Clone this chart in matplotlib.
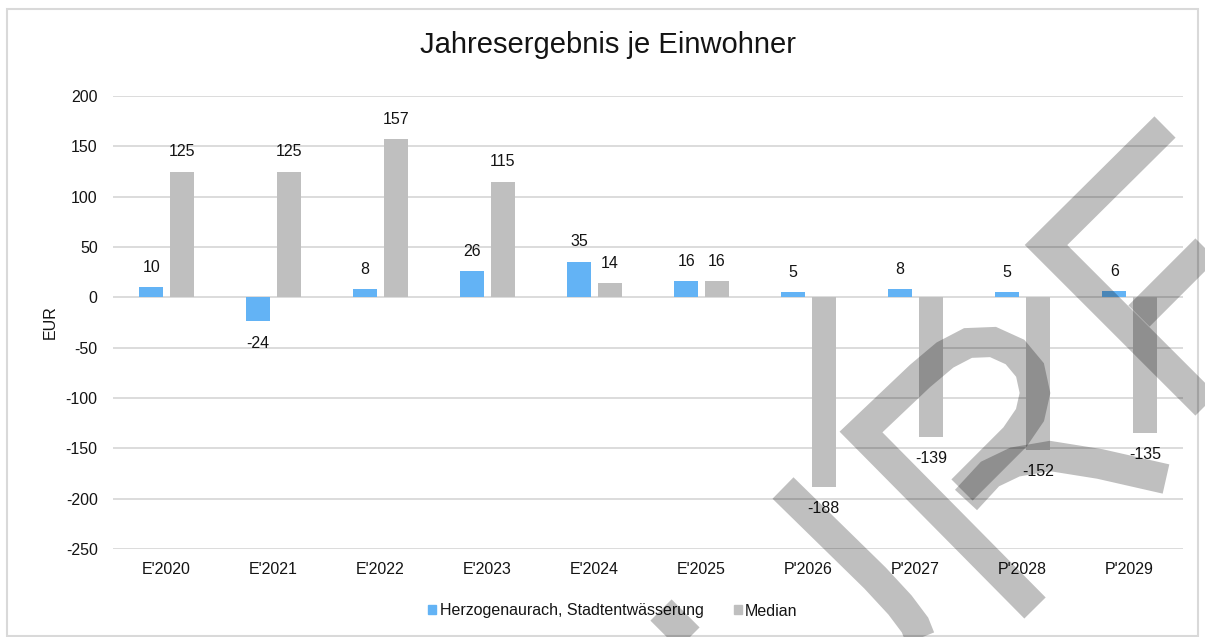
import matplotlib
matplotlib.use("Agg")
import matplotlib.pyplot as plt
import numpy as np
from matplotlib.patches import Rectangle, Patch
from matplotlib.lines import Line2D

categories = ["E'2020", "E'2021", "E'2022", "E'2023", "E'2024",
              "E'2025", "P'2026", "P'2027", "P'2028", "P'2029"]
herzogenaurach = [10, -24, 8, 26, 35, 16, 5, 8, 5, 6]
median = [125, 125, 157, 115, 14, 16, -188, -139, -152, -135]
series_names = ["Herzogenaurach, Stadtentwässerung", "Median"]
yticks = [200, 150, 100, 50, 0, -50, -100, -150, -200, -250]

BLUE = "#63b3f5"
GRAY = "#bfbfbf"
TXT = "#141414"
GRID = "#d9d9d9"
W, H = 1205, 637
FS = 11.5

plt.rcParams["font.family"] = ["Liberation Sans", "DejaVu Sans"]
plt.rcParams["axes.unicode_minus"] = False

fig = plt.figure(figsize=(W / 100, H / 100), dpi=100)
ax = fig.add_axes([113 / W, 1 - 549 / H, 1070 / W, 453 / H])

x = np.arange(len(categories))
bw = 0.22
off = 0.143
b1 = ax.bar(x - off, herzogenaurach, bw, color=BLUE, zorder=3)
b2 = ax.bar(x + off, median, bw, color=GRAY, zorder=3)

for bars, vals in ((b1, herzogenaurach), (b2, median)):
    for r, v in zip(bars, vals):
        cx = r.get_x() + r.get_width() / 2
        dy = 14.5 if v >= 0 else -15.5
        ax.annotate(str(v), (cx, v), xytext=(0, dy), textcoords="offset points",
                    ha="center", va="center", fontsize=FS, color=TXT, zorder=4)

ax.set_xlim(-0.5, len(categories) - 0.5)
ax.set_ylim(-250, 200)
ax.set_yticks(yticks)
ax.set_xticks(x)
ax.set_xticklabels(categories)
ax.tick_params(axis="both", length=0, labelsize=FS, labelcolor=TXT)
ax.tick_params(axis="y", pad=11)
ax.tick_params(axis="x", pad=9)
ax.grid(axis="y", color=GRID, linewidth=1.3, zorder=0)
for s in ax.spines.values():
    s.set_visible(False)
ax.set_ylabel("EUR", fontsize=FS, color=TXT, labelpad=6)

fig.text(608 / W, 1 - 45 / H, "Jahresergebnis je Einwohner", ha="center", va="center",
         fontsize=21, color=TXT)

handles = [Patch(color=BLUE), Patch(color=GRAY)]
fig.legend(handles, series_names, loc="center", bbox_to_anchor=(613 / W, 1 - 611 / H),
           ncol=2, frameon=False, fontsize=FS, handlelength=0.5, handleheight=0.5,
           handletextpad=0.2, columnspacing=1.9, labelcolor=TXT)

# chart border
fig.add_artist(Rectangle((7 / W, 1 - 636 / H), 1191 / W, 627 / H, transform=fig.transFigure,
                         fill=False, edgecolor=GRID, linewidth=1.5))

# watermark strokes (pixel coords, y from top)
strokes = [
    [(1165, 127), (1046, 245), (1215, 414)],
    [(1212, 243), (1139, 316)],
    [(1035, 608), (861, 432), (920, 376), (945, 355), (968, 343), (993, 342), (1015, 352),
     (1030, 370), (1035, 393), (1030, 415), (1015, 437), (990, 462), (962, 490)],
    [(966, 500), (990, 474), (1015, 462), (1050, 456), (1100, 464), (1166, 479)],
    [(783, 488), (875, 578), (900, 605), (915, 625), (925, 650)],
    [(661, 610), (702, 651)],
]
for st in strokes:
    xs = [p[0] / W for p in st]
    ys = [1 - p[1] / H for p in st]
    fig.add_artist(Line2D(xs, ys, transform=fig.transFigure, color="black", alpha=0.25,
                          linewidth=21.6, solid_capstyle="butt", solid_joinstyle="miter",
                          zorder=10))

fig.savefig("out.png", dpi=100, facecolor="white")
